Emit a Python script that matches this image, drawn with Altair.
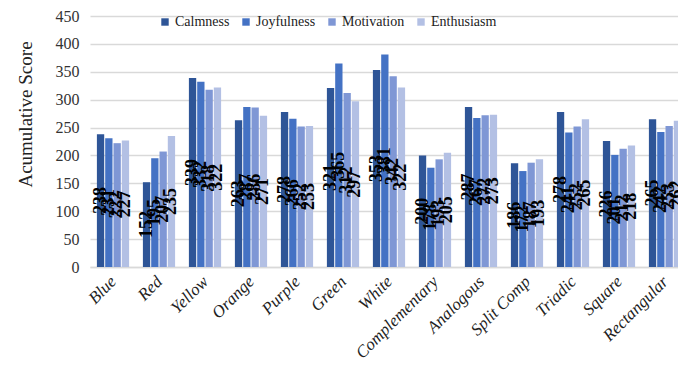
import altair as alt
import pandas as pd

categories = ["Blue", "Red", "Yellow", "Orange", "Purple", "Green", "White",
              "Complementary", "Analogous", "Split Comp", "Triadic", "Square", "Rectangular"]
series = ["Calmness", "Joyfulness", "Motivation", "Enthusiasm"]
calmness   = [238, 152, 339, 263, 278, 321, 353, 200, 287, 186, 278, 226, 265]
joyfulness = [231, 195, 332, 287, 266, 365, 381, 178, 267, 172, 241, 201, 242]
motivation = [222, 207, 318, 286, 252, 312, 342, 193, 272, 187, 252, 212, 253]
enthusiasm = [227, 235, 322, 271, 253, 297, 322, 205, 273, 193, 265, 218, 262]
colors = ["#2E5597", "#4472C4", "#7F97D5", "#B3C0E4"]
y_ticks = [0, 50, 100, 150, 200, 250, 300, 350, 400, 450]

rows = []
for s, vals in zip(series, [calmness, joyfulness, motivation, enthusiasm]):
    for c, v in zip(categories, vals):
        rows.append({"category": c, "series": s, "value": v, "half": v / 2})
df = pd.DataFrame(rows)

FONT = "Liberation Serif"

x_axis = alt.Axis(title=None, labelAngle=-45, labelFont=FONT, labelFontSize=17,
                  labelFontStyle="italic", labelColor="#222222", ticks=False,
                  domainColor="#d9d9d9", domainWidth=1.5, labelPadding=6,
                  labelOffset=-5, labelOverlap=False)
x_scale = alt.Scale(range=[0, 598], paddingInner=0.3, paddingOuter=0.15)
y_axis = alt.Axis(values=y_ticks, title="Acumulative Score", ticks=False, domain=False,
                  labelFont=FONT, labelFontSize=16, labelColor="#333333", labelPadding=11,
                  labelOverlap=False, gridColor="#d9d9d9", gridWidth=1.5,
                  titleFont=FONT, titleFontSize=19, titleFontWeight="normal",
                  titleColor="#222222", titleX=-65, titleY=98, titleBaseline="middle")
y_scale = alt.Scale(domain=[0, 450], nice=False)
xo = alt.XOffset("series:N", sort=series, scale=alt.Scale(paddingInner=0.12))

bars = alt.Chart(df).mark_bar().encode(
    x=alt.X("category:N", sort=categories, scale=x_scale, axis=x_axis),
    xOffset=xo,
    y=alt.Y("value:Q", scale=y_scale, axis=y_axis),
    color=alt.Color("series:N", sort=series,
                    scale=alt.Scale(domain=series, range=colors),
                    legend=alt.Legend(title=None, orient="none", direction="horizontal",
                                      legendX=68, legendY=-1, columns=4, columnPadding=9,
                                      symbolType="square", symbolSize=55, symbolStrokeWidth=0,
                                      labelFont=FONT, labelFontSize=14, labelColor="#222222",
                                      labelOffset=3)),
)

labels = alt.Chart(df).mark_text(angle=270, align="center", baseline="middle",
                                 font=FONT, fontSize=18, fontWeight="bold",
                                 color="#000000").encode(
    x=alt.X("category:N", sort=categories, scale=x_scale, axis=x_axis),
    xOffset=xo,
    y=alt.Y("half:Q", scale=y_scale, axis=y_axis),
    text=alt.Text("value:Q"),
)

chart = alt.layer(bars, labels).properties(
    width=588, height=251,
    autosize=alt.AutoSizeParams(type="none"),
    padding={"left": 90, "top": 16, "right": 0, "bottom": 101},
).configure_view(stroke=None)

chart.save("out.html", embed_options={"renderer": "svg", "actions": False})
